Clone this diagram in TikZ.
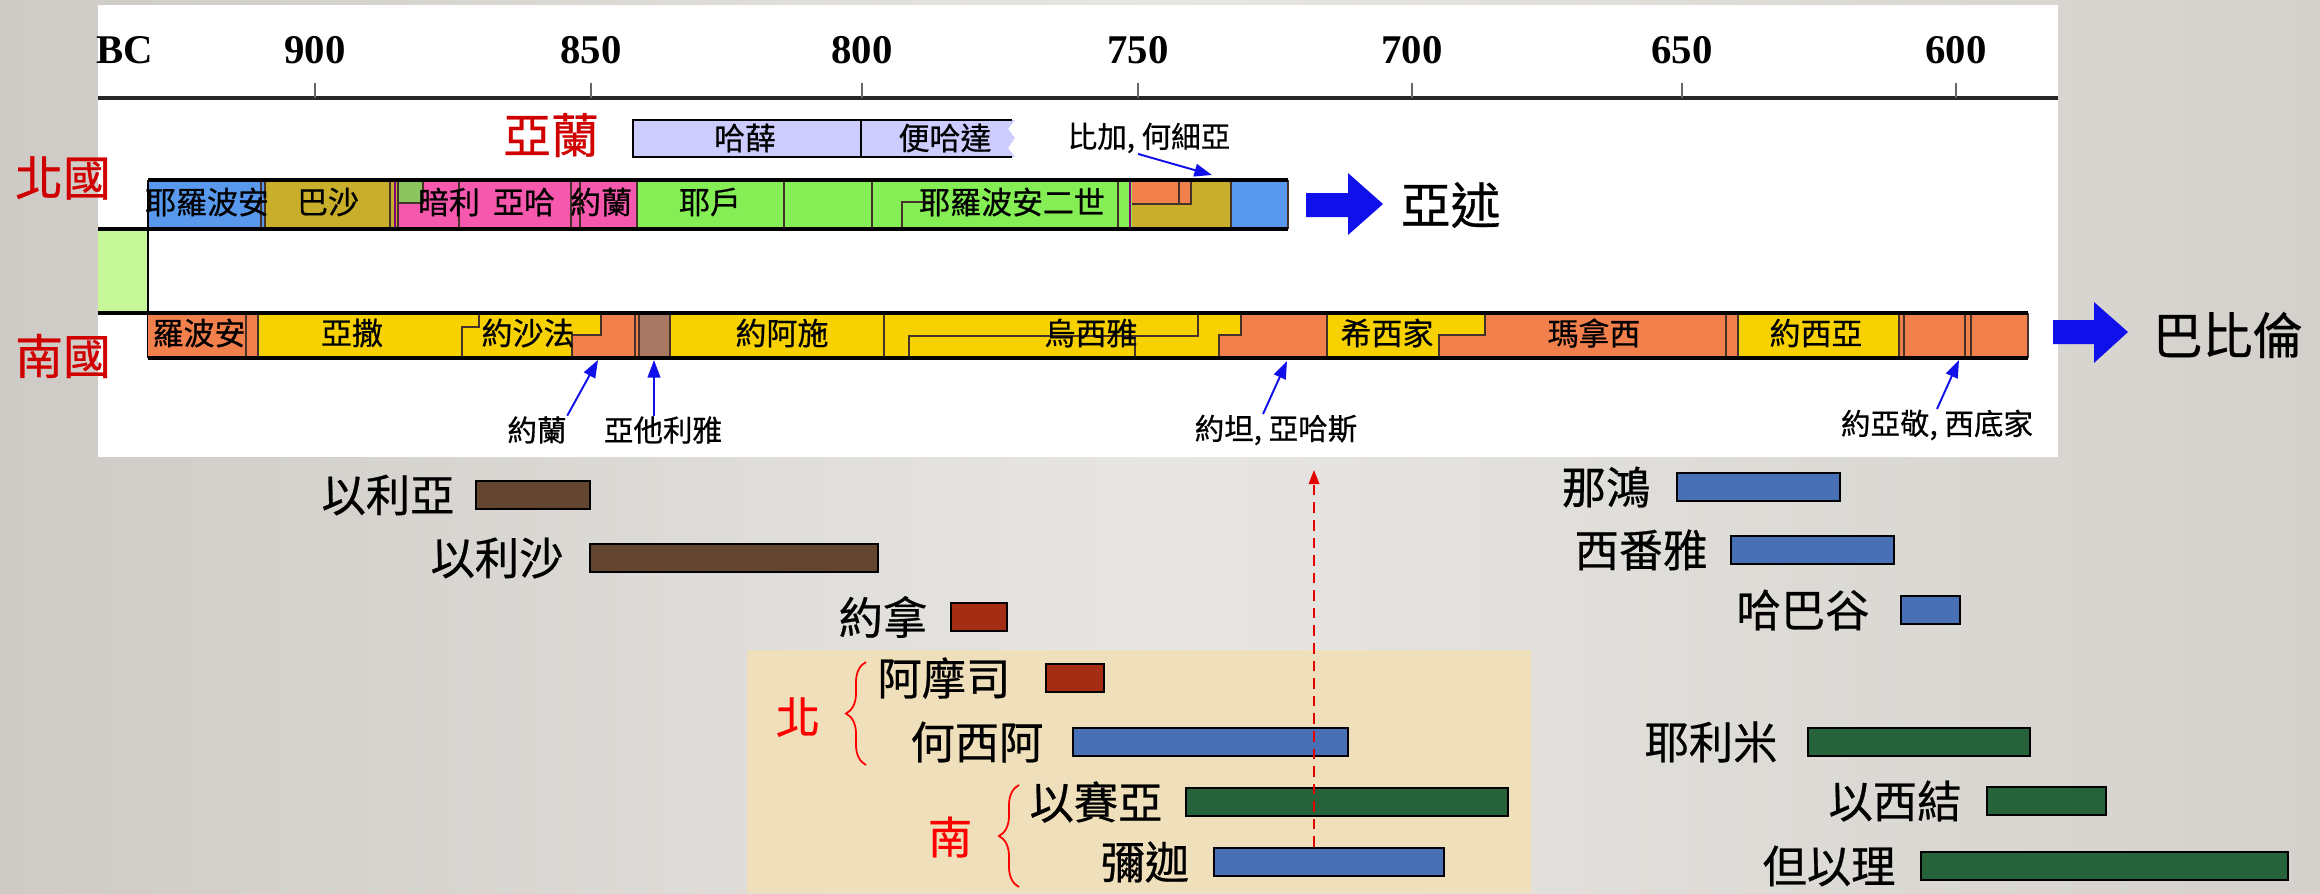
\documentclass[tikz,border=0pt]{standalone}
\usepackage{fontspec}
\setmainfont{Noto Sans CJK TC}[FakeBold=0.6]
\newfontfamily\yrfont{Liberation Serif}
\usetikzlibrary{arrows.meta,decorations.pathreplacing}

\definecolor{bgL}{RGB}{206,203,198}
\definecolor{bgM}{RGB}{232,230,227}
\definecolor{bgR}{RGB}{212,209,204}
\definecolor{parch}{RGB}{240,223,187}
\definecolor{nblue}{RGB}{88,153,238}
\definecolor{olive}{RGB}{200,174,42}
\definecolor{pinkk}{RGB}{245,88,172}
\definecolor{lgreen}{RGB}{132,238,84}
\definecolor{mgreen}{RGB}{140,196,96}
\definecolor{paleg}{RGB}{198,247,152}
\definecolor{orng}{RGB}{242,128,76}
\definecolor{yell}{RGB}{248,210,0}
\definecolor{brn}{RGB}{168,120,100}
\definecolor{aram}{RGB}{204,204,255}
\definecolor{kred}{RGB}{208,0,0}
\definecolor{arrblue}{RGB}{16,16,235}
\definecolor{pbrown}{RGB}{100,70,48}
\definecolor{pred}{RGB}{165,45,20}
\definecolor{pblue}{RGB}{72,112,182}
\definecolor{pgreen}{RGB}{38,98,58}
\definecolor{segline}{RGB}{70,50,40}

\begin{document}
\begin{tikzpicture}[
    x=0.01cm, y=-0.01cm,
    seglbl/.style={inner sep=0pt, font=\fontsize{8.8}{9}\selectfont},
    annlbl/.style={inner sep=0pt, font=\fontsize{8.4}{9}\selectfont},
    yrlbl/.style={inner sep=0pt, font=\yrfont\bfseries\fontsize{11.6}{12}\selectfont},
    kingdom/.style={inner sep=0pt, text=kred, font=\fontsize{13.6}{14}\selectfont},
    empire/.style={inner sep=0pt, font=\fontsize{14.2}{15}\selectfont},
    pname/.style={inner sep=0pt, font=\fontsize{12.6}{13}\selectfont},
    pbar/.style={draw=black, line width=0.6pt},
    rim/.style={line width=0.9pt, black},
    seg/.style={line width=0.3pt, segline},
    tick/.style={line width=0.3pt, black!60},
    pointer/.style={arrblue, line width=0.55pt, -{Triangle[length=5pt,width=3.6pt]}},
    refline/.style={red!90!black, line width=0.45pt, dash pattern=on 3pt off 2pt,
                    -{Triangle[length=4pt,width=3pt]}},
    bracel/.style={red, line width=0.5pt, decorate, decoration={brace, amplitude=0.2cm}},
]
\useasboundingbox (0,0) rectangle (2320,893);

% Background
\shade[left color=bgL, right color=bgR, middle color=bgM] (0,0) rectangle (2320,893);
\fill[white] (98,5) rectangle (2058,457);
\fill[parch] (747,650) rectangle (1531,893);

% Time axis
\draw[line width=0.9pt, black!85] (98,98) -- (2058,98);
\node[yrlbl, anchor=west] (bc) at (96,50) {BC};
\foreach \x/\yr in {315/900, 591/850, 862/800, 1138/750, 1412/700, 1682/650, 1956/600} {
  \draw[tick] (\x,83) -- (\x,98);
  \node[yrlbl] (yr\yr) at (\x,50) {\yr};
}

% Aram
\fill[aram] (633,120) -- (1015,120) -- (1008,129) -- (1015,138) -- (1008,148)
  -- (1015,157) -- (633,157) -- cycle;
\draw[line width=0.7pt] (1012,120) -- (633,120) -- (633,157) -- (1012,157);
\draw[line width=0.5pt] (861,120) -- (861,157);
\node[kingdom] (aramlbl) at (551,135) {亞蘭};
\node[seglbl] (hazael) at (745,138) {哈薛};
\node[seglbl] (benhadad) at (945,138) {便哈達};

% North kingdom
\fill[paleg] (98,229) rectangle (148,313);
\fill[nblue] (148,180) rectangle (265,229);
\fill[olive] (265,180) rectangle (398,229);
\fill[pinkk] (398,180) rectangle (637,229);
\fill[mgreen] (398,180) rectangle (423,203);
\fill[lgreen] (637,180) rectangle (1132,229);
\fill[olive] (1132,180) rectangle (1231,229);
\fill[orng] (1132,180) rectangle (1191,204);
\fill[nblue] (1231,180) rectangle (1288,229);
\foreach \x in {261,265,390,398,459,571,580,637,784,872,1118,1231,1288}
  \draw[seg] (\x,180) -- (\x,229);
\foreach \x in {395,1130}
  \draw[line width=0.4pt, violet] (\x,180) -- (\x,229);
\draw[seg] (398,203) -- (423,203) -- (423,180);
\draw[seg] (902,229) -- (902,202) -- (935,202);
\draw[seg] (1132,204) -- (1191,204) -- (1191,180);
\draw[seg] (1179,180) -- (1179,204);
\draw[rim] (148,180) -- (1288,180);
\draw[rim] (98,229) -- (1288,229);
\draw[line width=0.5pt] (148,180) -- (148,358);

\node[seglbl] (jer1) at (207,202) {耶羅波安};
\node[seglbl] (baasha) at (328,202) {巴沙};
\node[seglbl] (omri) at (449,202) {暗利};
\node[seglbl] (ahab) at (524,202) {亞哈};
\node[seglbl] (joramn) at (601,202) {約蘭};
\node[seglbl] (jehu) at (710,202) {耶戶};
\node[seglbl] (jer2) at (1012,202) {耶羅波安二世};
\node[annlbl] (pekah) at (1149,138) {比加, 何細亞};
\coordinate (tPekah) at (1212,175);
\draw[pointer] ([xshift=-0.11cm]pekah.south) -- (tPekah);

% Assyria
\fill[arrblue] (1306,193) -- (1348,193) -- (1348,173) -- (1383,204) -- (1348,235)
  -- (1348,217) -- (1306,217) -- cycle;
\node[empire, anchor=west] (assyria) at (1400,205) {亞述};
\node[kingdom] (north) at (63,178) {北國};

% South kingdom
\fill[orng] (148,313) rectangle (258,358);
\fill[yell] (258,313) rectangle (639,358);
\fill[orng] (601,313) -- (639,313) -- (639,358) -- (572,358) -- (572,335) -- (601,335) -- cycle;
\fill[brn] (639,313) rectangle (670,358);
\fill[yell] (670,313) rectangle (1241,358);
\fill[orng] (1241,313) -- (1327,313) -- (1327,358) -- (1219,358) -- (1219,335) -- (1241,335) -- cycle;
\fill[yell] (1327,313) rectangle (1485,358);
\fill[orng] (1485,313) -- (1738,313) -- (1738,358) -- (1439,358) -- (1439,335) -- (1485,335) -- cycle;
\fill[yell] (1738,313) rectangle (1899,358);
\fill[orng] (1899,313) rectangle (2028,358);
\foreach \x in {246,258,635,639,670,884,1327,1726,1738,1899,1904,1965,1971,2028}
  \draw[seg] (\x,313) -- (\x,358);
\draw[seg] (462,358) -- (462,327) -- (479,327) -- (479,313);
\draw[seg] (572,358) -- (572,335) -- (601,335) -- (601,313);
\draw[seg] (909,358) -- (909,336) -- (1198,336) -- (1198,313);
\draw[seg] (1135,336) -- (1135,358);
\draw[seg] (1219,358) -- (1219,335) -- (1241,335) -- (1241,313);
\draw[seg] (1439,358) -- (1439,335) -- (1485,335) -- (1485,313);
\draw[rim] (98,313) -- (2028,313);
\draw[rim] (148,358) -- (2028,358);

\node[seglbl] (rehob) at (199,333) {羅波安};
\node[seglbl] (asa) at (352,333) {亞撒};
\node[seglbl] (jehosh) at (528,333) {約沙法};
\node[seglbl] (joash) at (782,333) {約阿施};
\node[seglbl] (uzziah) at (1091,333) {烏西雅};
\node[seglbl] (hezek) at (1387,333) {希西家};
\node[seglbl] (manas) at (1594,333) {瑪拿西};
\node[seglbl] (josiah) at (1816,333) {約西亞};
\node[kingdom] (south) at (63,356) {南國};

% Annotations below the south bar
\node[annlbl] (joram) at (537,430) {約蘭};
\node[annlbl] (athal) at (663,430) {亞他利雅};
\node[annlbl] (jotham) at (1276,430) {約坦, 亞哈斯};
\node[annlbl] (jehoi) at (1937,425) {約亞敬, 西底家};
\coordinate (tJoram) at (598,360);
\coordinate (tAthal) at (654,360);
\coordinate (tJotham) at (1287,361);
\coordinate (tJehoi) at (1959,360);
\draw[pointer] (joram.north east) -- (tJoram);
\draw[pointer] (athal.north -| tAthal) -- (tAthal);
\draw[pointer] ([xshift=-0.13cm]jotham.north) -- (tJotham);
\draw[pointer] (jehoi.north) -- (tJehoi);

% Babylon
\fill[arrblue] (2053,320) -- (2094,320) -- (2094,302) -- (2128,332) -- (2094,363)
  -- (2094,344) -- (2053,344) -- cycle;
\node[empire, anchor=west] (babylon) at (2152,335) {巴比倫};

% Prophets
\foreach \nm/\tx/\ty/\xa/\xb/\col [count=\i] in {
    以利亞/388/495/476/590/pbrown, 以利沙/497/558/590/878/pbrown,
    約拿/883/617/951/1007/pred, 阿摩司/944/678/1046/1104/pred,
    何西阿/977/742/1073/1348/pblue, 以賽亞/1096/802/1186/1508/pgreen,
    彌迦/1145/862/1214/1444/pblue, 那鴻/1606/487/1677/1840/pblue,
    西番雅/1641/550/1731/1894/pblue, 哈巴谷/1803/610/1901/1960/pblue,
    耶利米/1711/742/1808/2030/pgreen, 以西結/1895/801/1987/2106/pgreen,
    但以理/1829/866/1921/2288/pgreen} {
  \node[pname] (pn\i) at (\tx,\ty) {\nm};
  \draw[pbar, fill=\col] (\xa,\ty-14) rectangle (\xb,\ty+14);
}
\node[pname, text=red] (pnorth) at (798,717) {北};
\node[pname, text=red] (psouth) at (950,837) {南};
\draw[bracel] (866,765) -- (866,662);
\draw[bracel] (1019,887) -- (1019,785);

% Reference line
\coordinate (dTop) at (1314,470);
\coordinate (dBot) at (1314,847);
\draw[refline] (dBot) -- (dTop);

\end{tikzpicture}
\end{document}
